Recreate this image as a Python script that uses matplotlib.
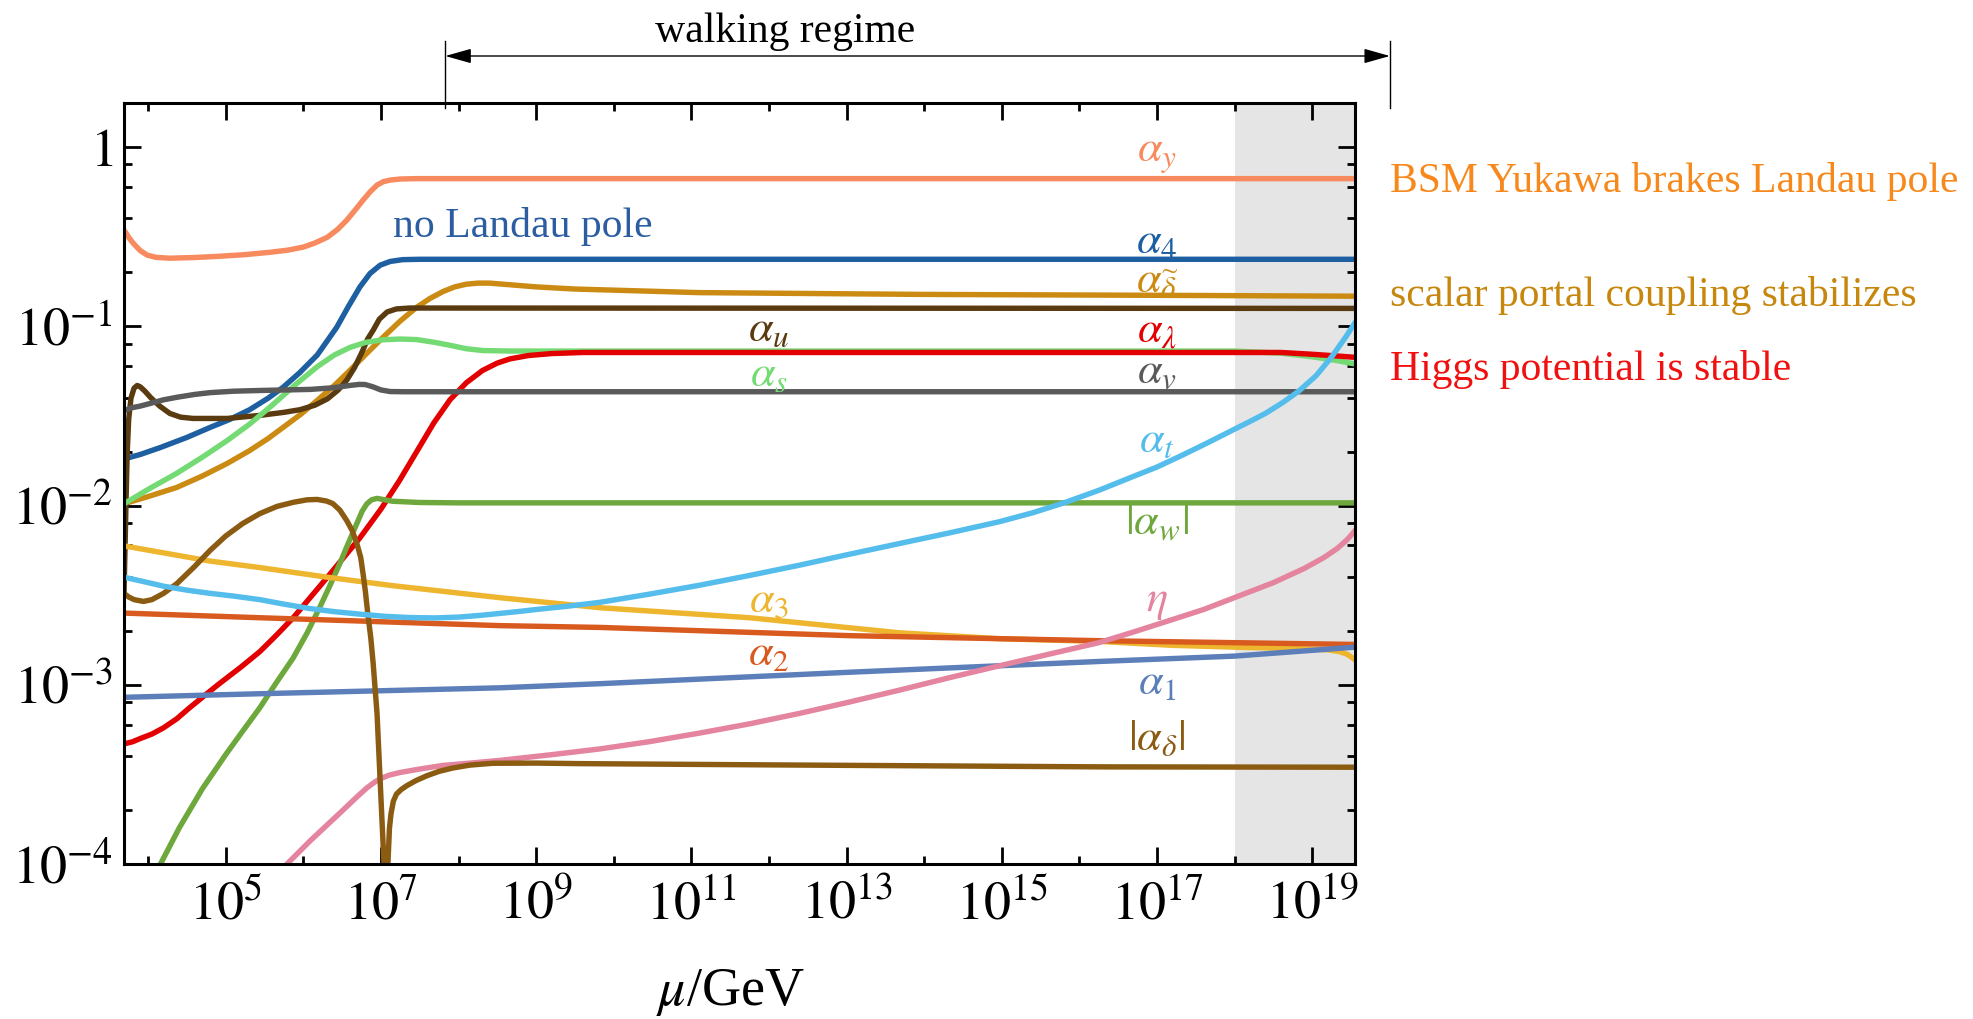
import numpy as np
import matplotlib.pyplot as plt
from matplotlib import transforms

plt.rcParams['font.family'] = ['Liberation Serif', 'DejaVu Serif']
plt.rcParams['mathtext.fontset'] = 'stix'

# Running couplings, stored as log10(mu/GeV) and log10(alpha)
mu_y = [3.69, 3.71, 3.76, 3.81, 3.9, 3.99, 4.1, 4.28, 4.6, 4.93, 5.25, 5.57, 5.8, 6.0, 6.15, 6.31, 6.44, 6.56,
        6.67, 6.77, 6.86, 6.95, 7.03, 7.12, 7.25, 7.45, 19.55]
a_y = [-0.465, -0.475, -0.51, -0.537, -0.578, -0.603, -0.615, -0.62, -0.616, -0.609, -0.60, -0.587, -0.575, -0.558,
       -0.535, -0.503, -0.46, -0.408, -0.35, -0.296, -0.25, -0.212, -0.193, -0.184, -0.178, -0.176, -0.176]

mu_4 = [3.69, 3.9, 4.16, 4.5, 4.80, 5.05, 5.31, 5.55, 5.74, 5.95, 6.18, 6.43, 6.58, 6.73, 6.86, 6.99, 7.12, 7.28,
        7.5, 19.55]
a_4 = [-1.74, -1.715, -1.676, -1.62, -1.564, -1.52, -1.465, -1.40, -1.34, -1.26, -1.16, -1.006, -0.89, -0.78,
       -0.705, -0.659, -0.638, -0.628, -0.626, -0.626]

mu_dt = [3.69, 4.0, 4.37, 4.7, 5.02, 5.31, 5.55, 5.74, 5.97, 6.18, 6.40, 6.60, 6.82, 7.03, 7.25, 7.46, 7.63, 7.80,
         7.95, 8.10, 8.25, 8.40, 8.66, 9.0, 9.5, 10.14, 11.1, 14.0, 17.0, 19.55]
a_dt = [-1.99, -1.95, -1.899, -1.835, -1.765, -1.693, -1.625, -1.564, -1.49, -1.413, -1.33, -1.246, -1.15, -1.06,
        -0.97, -0.894, -0.845, -0.806, -0.78, -0.765, -0.759, -0.759, -0.768, -0.78, -0.792, -0.80, -0.812, -0.822,
        -0.827, -0.832]

mu_u = [3.69, 3.70, 3.715, 3.73, 3.75, 3.78, 3.82, 3.86, 3.90, 3.96, 4.03, 4.15, 4.28, 4.42, 4.58, 5.02, 5.44, 5.75,
        5.96, 6.15, 6.31, 6.45, 6.56, 6.66, 6.75, 6.83, 6.90, 6.98, 7.08, 7.2, 7.37, 19.55]
a_u = [-2.49, -2.3, -2.0, -1.72, -1.52, -1.40, -1.345, -1.33, -1.338, -1.362, -1.396, -1.445, -1.486, -1.507, -1.514,
       -1.514, -1.497, -1.48, -1.465, -1.44, -1.405, -1.355, -1.30, -1.23, -1.15, -1.07, -1.022, -0.96, -0.92,
       -0.903, -0.898, -0.9]

mu_s = [3.69, 4.0, 4.37, 4.7, 5.02, 5.31, 5.6, 5.9, 6.18, 6.40, 6.60, 6.8, 7.03, 7.25, 7.46, 7.7, 7.89, 8.1, 8.31,
        8.66, 9.0, 18.0, 18.6, 19.0, 19.3, 19.55]
a_s = [-1.99, -1.91, -1.82, -1.73, -1.637, -1.545, -1.44, -1.325, -1.225, -1.16, -1.118, -1.09, -1.075, -1.071,
       -1.074, -1.09, -1.106, -1.125, -1.135, -1.138, -1.138, -1.138, -1.15, -1.17, -1.19, -1.21]

mu_lam = [3.69, 3.8, 3.9, 4.05, 4.2, 4.37, 4.53, 4.7, 4.9, 5.2, 5.44, 5.65, 5.87, 6.31, 6.73, 7.0, 7.24, 7.46, 7.68,
          7.89, 8.1, 8.31, 8.5, 8.66, 8.9, 9.2, 9.6, 18.6, 19.0, 19.3, 19.55]
a_lam = [-3.33, -3.318, -3.30, -3.275, -3.24, -3.19, -3.13, -3.07, -3.0, -2.9, -2.815, -2.725, -2.626, -2.40, -2.18,
         -2.02, -1.86, -1.70, -1.54, -1.41, -1.315, -1.246, -1.205, -1.182, -1.163, -1.152, -1.146, -1.146, -1.156,
         -1.165, -1.173]

mu_v = [3.69, 3.73, 3.78, 3.9, 4.03, 4.2, 4.37, 4.6, 4.80, 5.1, 5.44, 6.09, 6.38, 6.6, 6.72, 6.8, 6.9, 7.0, 7.12,
        7.3, 19.55]
a_v = [-1.47, -1.465, -1.455, -1.445, -1.43, -1.41, -1.396, -1.38, -1.37, -1.362, -1.358, -1.352, -1.343, -1.33,
       -1.324, -1.325, -1.338, -1.355, -1.364, -1.365, -1.365]

mu_w = [4.16, 4.4, 4.7, 5.0, 5.2, 5.44, 5.65, 5.87, 6.05, 6.21, 6.35, 6.47, 6.58, 6.69, 6.76, 6.82, 6.88, 6.95,
        7.05, 7.15, 7.5, 8.0, 19.55]
a_w = [-4.0, -3.80, -3.58, -3.39, -3.27, -3.128, -2.99, -2.85, -2.71, -2.57, -2.44, -2.324, -2.21, -2.10, -2.03,
       -1.99, -1.968, -1.96, -1.968, -1.976, -1.983, -1.985, -1.985]

mu_3 = [3.69, 4.8, 5.44, 6.31, 7.15, 8.53, 9.82, 11.75, 13.68, 14.97, 16.25, 17.2, 18.0, 18.8, 19.2, 19.35, 19.45,
        19.55]
a_3 = [-2.225, -2.31, -2.346, -2.40, -2.447, -2.514, -2.57, -2.626, -2.71, -2.743, -2.758, -2.78, -2.79, -2.798,
       -2.805, -2.815, -2.83, -2.86]

mu_2 = [3.69, 5.44, 8.53, 9.82, 13.04, 16.25, 19.55]
a_2 = [-2.60, -2.626, -2.67, -2.68, -2.726, -2.754, -2.775]

mu_1 = [3.69, 5.44, 8.53, 9.82, 13.04, 16.25, 18.0, 19.55]
a_1 = [-3.07, -3.05, -3.017, -2.994, -2.93, -2.87, -2.84, -2.79]

mu_eta = [5.65, 5.79, 6.09, 6.3, 6.51, 6.68, 6.82, 6.92, 6.99, 7.1, 7.24, 7.5, 7.80, 8.15, 8.53, 9.2, 9.82, 10.45,
          11.1, 11.75, 12.39, 13.0, 13.68, 14.3, 14.97, 15.6, 16.25, 16.7, 17.17, 17.6, 18.02, 18.5, 18.9, 19.15,
          19.32, 19.45, 19.55]
a_eta = [-4.1, -4.0, -3.87, -3.785, -3.70, -3.63, -3.575, -3.543, -3.525, -3.505, -3.49, -3.47, -3.45, -3.437,
         -3.422, -3.39, -3.358, -3.318, -3.27, -3.218, -3.16, -3.10, -3.03, -2.963, -2.894, -2.83, -2.765, -2.705,
         -2.64, -2.58, -2.51, -2.43, -2.35, -2.29, -2.24, -2.19, -2.14]

mu_t = [3.69, 3.9, 4.2, 4.5, 4.8, 5.1, 5.44, 5.75, 6.09, 6.4, 6.73, 7.05, 7.37, 7.7, 8.02, 8.3, 8.53, 8.8, 9.0, 9.4,
        9.82, 10.45, 11.1, 11.75, 12.39, 13.0, 13.68, 14.3, 14.97, 15.4, 15.8, 16.25, 16.68, 17.0, 17.32, 17.65,
        17.97, 18.2, 18.4, 18.62, 18.83, 19.05, 19.25, 19.43, 19.55]
a_t = [-2.40, -2.42, -2.45, -2.472, -2.49, -2.505, -2.525, -2.55, -2.575, -2.592, -2.606, -2.618, -2.625, -2.627,
       -2.622, -2.612, -2.602, -2.59, -2.58, -2.562, -2.54, -2.495, -2.445, -2.39, -2.333, -2.275, -2.212, -2.155,
       -2.09, -2.04, -1.985, -1.915, -1.84, -1.785, -1.72, -1.65, -1.58, -1.53, -1.485, -1.425, -1.36, -1.275,
       -1.17, -1.06, -0.98]

mu_d = [3.69, 3.75, 3.82, 3.94, 4.05, 4.2, 4.37, 4.6, 4.80, 5.0, 5.22, 5.44, 5.66, 5.87, 6.05, 6.18, 6.3, 6.38,
        6.47, 6.56, 6.63, 6.69, 6.74, 6.77, 6.80, 6.83, 6.87, 6.90, 6.95, 6.98, 7.01, 7.04, 7.065, 7.09, 7.11, 7.13,
        7.16, 7.2, 7.26, 7.33, 7.45, 7.59, 7.75, 7.93, 8.15, 8.44, 9.0, 9.57, 12.0, 16.25, 19.55]
a_d = [-2.49, -2.51, -2.525, -2.535, -2.525, -2.49, -2.436, -2.34, -2.25, -2.17, -2.10, -2.045, -2.005, -1.982,
       -1.968, -1.966, -1.975, -1.989, -2.025, -2.084, -2.14, -2.212, -2.29, -2.38, -2.48, -2.60, -2.74, -2.88,
       -3.16, -3.44, -3.72, -4.0, -4.6, -4.0, -3.80, -3.72, -3.65, -3.61, -3.585, -3.564, -3.535, -3.508, -3.483,
       -3.464, -3.448, -3.438, -3.437, -3.44, -3.447, -3.458, -3.46]

# Label positions (log10 mu, log10 alpha)
labels = [r'$\alpha_y$', r'$\alpha_4$', r'$\alpha_{\widetilde{\delta}}$', r'$\alpha_\lambda$', r'$\alpha_v$',
          r'$\alpha_t$', r'$|\alpha_w|$', r'$\eta$', r'$\alpha_1$', r'$|\alpha_\delta|$',
          r'$\alpha_u$', r'$\alpha_s$', r'$\alpha_3$', r'$\alpha_2$']
label_mu = [17.0, 17.0, 17.0, 17.0, 17.0, 17.0, 17.0, 17.0, 17.0, 17.0, 12.0, 12.0, 12.0, 12.0]
label_a = [-0.045, -0.53, -0.75, -1.03, -1.255, -1.64, -2.10, -2.54, -2.99, -3.30, -1.02, -1.27, -2.53, -2.83]

x_major = [5, 7, 9, 11, 13, 15, 17, 19]
x_minor = [4, 6, 8, 10, 12, 14, 16, 18]
y_major = [-4, -3, -2, -1, 0]
y_major_labels = [r'$10^{-4}$', r'$10^{-3}$', r'$10^{-2}$', r'$10^{-1}$', r'$1$']

mu_range = [3.69, 19.55]
a_range = [-4.0, 0.246]
shade_from = 18
walking = [7.83, 20.0]

c_y = '#F78A5E'
c_4 = '#1D5FA1'
c_dt = '#CB8A12'
c_u = '#5A3B10'
c_s = '#74DB74'
c_lam = '#E30000'
c_v = '#5A5A5A'
c_w = '#6EA83C'
c_3 = '#EEB52F'
c_2 = '#D95A1F'
c_1 = '#5C7FB9'
c_eta = '#E4849F'
c_t = '#55BDEB'
c_d = '#8B5B12'

W, H = 1974, 1019
fig = plt.figure(figsize=(W / 100, H / 100), dpi=100)
ax = fig.add_axes([124 / W, 1 - 864 / H, (1355 - 124) / W, (864 - 103) / H])
ax.set_xscale('log')
ax.set_yscale('log')
ax.set_xlim(10 ** mu_range[0], 10 ** mu_range[1])
ax.set_ylim(10 ** a_range[0], 10 ** a_range[1])

ax.axvspan(10 ** shade_from, 10 ** mu_range[1], color='#E5E5E5', lw=0, zorder=0)

curves = [
    (mu_y, a_y, c_y), (mu_4, a_4, c_4), (mu_dt, a_dt, c_dt), (mu_u, a_u, c_u),
    (mu_s, a_s, c_s), (mu_lam, a_lam, c_lam), (mu_v, a_v, c_v), (mu_w, a_w, c_w),
    (mu_3, a_3, c_3), (mu_2, a_2, c_2), (mu_1, a_1, c_1), (mu_eta, a_eta, c_eta),
    (mu_d, a_d, c_d), (mu_t, a_t, c_t),
]
for m, a, c in curves:
    ax.plot(10 ** np.array(m), 10 ** np.array(a), color=c, lw=3.9, solid_joinstyle='round')

label_colors = [c_y, c_4, c_dt, c_lam, c_v, c_t, c_w, c_eta, c_1, c_d, c_u, c_s, c_3, c_2]
for txt, m, a, c in zip(labels, label_mu, label_a, label_colors):
    ax.text(10 ** m, 10 ** a, txt, color=c, fontsize=32, ha='center', va='center')

# ticks: decades on x (odd ones labelled), 2,4,6,8 subdivisions on y
ax.xaxis.set_major_locator(plt.FixedLocator([10.0 ** e for e in x_major]))
ax.xaxis.set_minor_locator(plt.FixedLocator([10.0 ** e for e in x_minor]))
ax.xaxis.set_major_formatter(plt.FixedFormatter([r'$10^{%d}$' % e for e in x_major]))
ax.xaxis.set_minor_formatter(plt.NullFormatter())
ax.yaxis.set_major_locator(plt.FixedLocator([10.0 ** e for e in y_major]))
ax.yaxis.set_major_formatter(plt.FixedFormatter(y_major_labels))
y_minor = [k * 10.0 ** e for e in range(-4, 1) for k in (2, 4, 6, 8)]
ax.yaxis.set_minor_locator(plt.FixedLocator(y_minor))
ax.yaxis.set_minor_formatter(plt.NullFormatter())

ax.tick_params(which='both', direction='in', top=True, right=True, labelsize=39, width=2)
ax.tick_params(which='major', length=12)
ax.tick_params(which='minor', length=6)
ax.tick_params(axis='x', pad=12)
ax.tick_params(axis='y', pad=8)
for s in ax.spines.values():
    s.set_linewidth(2.2)

# walking regime arrow above the frame
trans = transforms.blended_transform_factory(ax.transData, ax.transAxes)
y_arrow = (864 - 56) / (864 - 103)
y_bar = [(864 - 108) / (864 - 103), (864 - 41) / (864 - 103)]
ax.annotate('', xy=(10 ** walking[1], y_arrow), xytext=(10 ** walking[0], y_arrow),
            xycoords=trans, textcoords=trans, annotation_clip=False,
            arrowprops=dict(arrowstyle='<|-|>,head_length=1.6,head_width=0.45',
                            color='k', lw=1, shrinkA=0, shrinkB=0))
for w in walking:
    ax.plot([10 ** w, 10 ** w], y_bar, color='k', lw=1, transform=trans, clip_on=False)

fig.text(785 / W, 1 - 42 / H, 'walking regime', fontsize=30, ha='center', va='baseline')
fig.text(393 / W, 1 - 237 / H, 'no Landau pole', fontsize=30, color='#2B5DA0',
         ha='left', va='baseline')
fig.text(1390 / W, 1 - 192 / H, 'BSM Yukawa brakes Landau pole', fontsize=30,
         color='#F7891C', ha='left', va='baseline')
fig.text(1390 / W, 1 - 306 / H, 'scalar portal coupling stabilizes', fontsize=30,
         color='#C7860C', ha='left', va='baseline')
fig.text(1390 / W, 1 - 380 / H, 'Higgs potential is stable', fontsize=30,
         color='#F01010', ha='left', va='baseline')
fig.text(730 / W, 1 - 1005 / H, r'$\mu$/GeV', fontsize=39, ha='center', va='baseline')

fig.savefig('out.png', dpi=100, facecolor='white')
